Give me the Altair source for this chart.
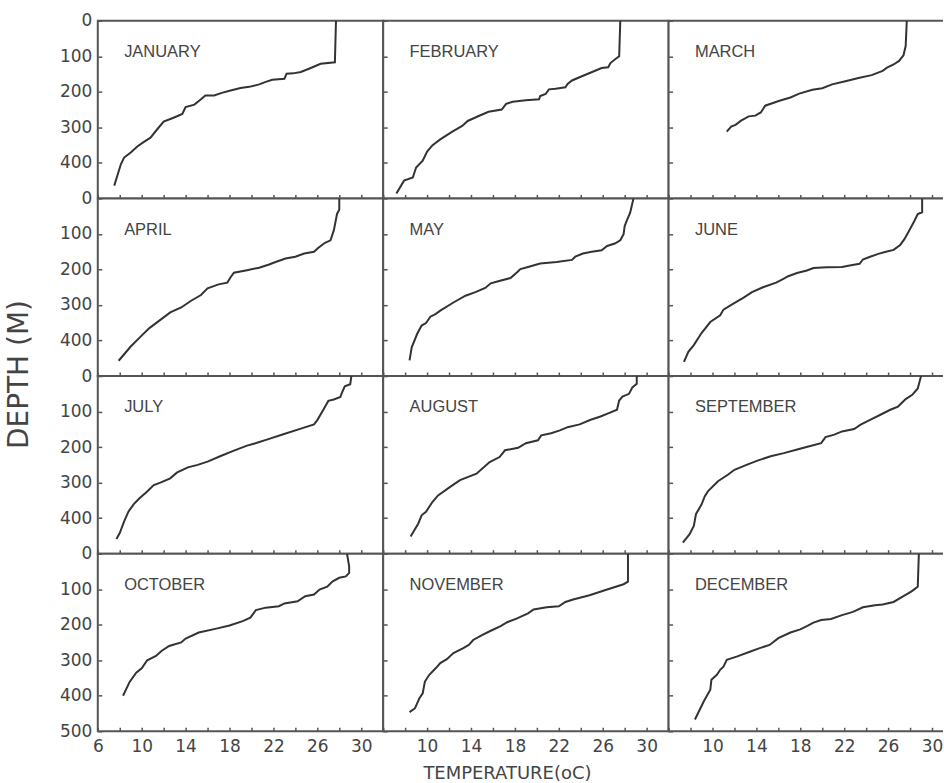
import json
import altair as alt
import pandas as pd

# ---------------- data ----------------
months = ["JANUARY", "FEBRUARY", "MARCH", "APRIL", "MAY", "JUNE",
          "JULY", "AUGUST", "SEPTEMBER", "OCTOBER", "NOVEMBER", "DECEMBER"]

jan_t = [27.7, 27.6, 26.3, 25.4, 24.5, 23.8, 23.2, 23.0, 21.9, 21.3, 20.7, 19.8, 19.0, 18.1, 17.3, 16.6,
         15.8, 15.4, 14.8, 14.0, 13.7, 12.9, 12.0, 11.4, 10.8, 10.1, 9.6, 9.0, 8.4, 8.1, 7.5]
jan_d = [0, 117, 121, 133, 144, 148, 149, 163, 166, 172, 179, 186, 189, 196, 203, 210,
         210, 221, 236, 243, 262, 273, 284, 306, 329, 343, 354, 371, 385, 404, 464]

feb_t = [27.6, 27.5, 27.1, 26.7, 26.5, 25.9, 25.2, 24.1, 23.2, 22.8, 22.6, 21.7, 21.1, 20.8, 20.3, 20.2,
         19.0, 17.8, 17.2, 16.8, 15.6, 14.7, 13.7, 13.2, 12.3, 11.2, 10.5, 10.0, 9.6, 9.0, 8.7, 7.9, 7.2]
feb_d = [0, 100, 109, 119, 131, 133, 142, 156, 168, 178, 187, 191, 193, 206, 212, 221,
         224, 228, 234, 250, 256, 268, 282, 296, 312, 334, 350, 368, 394, 413, 441, 450, 486]

mar_t = [27.7, 27.6, 27.4, 27.0, 26.5, 25.9, 25.5, 24.5, 23.3, 22.1, 20.9, 20.0, 19.1, 17.9, 17.1, 16.1,
         14.8, 14.4, 13.9, 13.3, 12.6, 12.1, 11.7, 11.3]
mar_d = [0, 71, 97, 113, 123, 132, 141, 153, 161, 170, 179, 190, 194, 205, 216, 225,
         239, 258, 267, 269, 281, 293, 298, 312]

apr_t = [28.0, 28.0, 27.8, 27.5, 27.2, 26.7, 26.1, 25.7, 24.8, 24.0, 23.1, 22.2, 21.6, 20.7, 19.6, 18.4,
         18.1, 17.8, 17.0, 16.0, 15.4, 14.5, 13.6, 12.6, 11.7, 10.7, 9.9, 9.0, 7.9]
apr_d = [0, 32, 43, 90, 118, 125, 139, 150, 155, 164, 169, 179, 186, 195, 202, 209,
         222, 237, 242, 253, 272, 288, 307, 321, 342, 365, 389, 417, 457]

may_t = [28.8, 28.5, 28.2, 28.0, 27.9, 27.6, 27.1, 26.4, 25.9, 25.0, 24.2, 23.5, 23.2, 21.8, 20.3, 19.2,
         18.5, 18.2, 17.6, 16.4, 15.8, 15.3, 14.4, 13.5, 12.4, 11.2, 10.8, 10.3, 9.9, 9.5, 9.1, 8.6, 8.4]
may_d = [0, 40, 62, 78, 101, 118, 127, 134, 146, 150, 155, 164, 173, 179, 183, 193,
         199, 208, 224, 234, 239, 252, 264, 274, 293, 316, 325, 333, 351, 358, 381, 419, 456]

jun_t = [29.1, 29.1, 28.7, 28.4, 28.0, 27.5, 27.1, 26.5, 25.8, 25.1, 24.3, 23.7, 23.4, 22.5, 21.8, 20.4,
         19.2, 18.6, 17.7, 16.9, 16.5, 15.8, 14.6, 13.6, 12.8, 11.9, 11.0, 10.7, 9.8, 9.0, 8.3, 7.8, 7.4]
jun_d = [0, 39, 44, 63, 86, 114, 131, 145, 150, 156, 165, 172, 184, 189, 193, 194,
         196, 203, 210, 219, 226, 237, 250, 264, 280, 296, 313, 329, 348, 379, 413, 432, 460]

jul_t = [29.1, 29.0, 28.5, 28.2, 28.1, 27.5, 27.0, 26.6, 26.0, 25.7, 24.5, 22.9, 21.4, 20.5, 19.6, 18.4,
         17.2, 16.0, 15.1, 14.2, 13.2, 12.6, 11.7, 11.1, 10.4, 9.8, 9.3, 8.8, 8.4, 8.0, 7.7]
jul_d = [0, 23, 29, 50, 59, 66, 70, 92, 124, 136, 148, 164, 179, 188, 196, 210,
         225, 241, 250, 257, 272, 288, 300, 307, 328, 344, 360, 381, 409, 442, 459]

aug_t = [29.1, 29.1, 28.7, 28.4, 27.8, 27.5, 27.3, 26.5, 25.8, 24.9, 23.9, 22.8, 22.1, 21.3, 20.4, 20.1,
         19.0, 18.3, 17.1, 16.6, 15.7, 14.5, 13.0, 12.1, 11.0, 10.5, 9.9, 9.5, 9.2, 8.5]
aug_d = [0, 22, 32, 50, 58, 69, 95, 105, 114, 123, 136, 144, 153, 161, 167, 181,
         189, 202, 209, 228, 242, 275, 293, 312, 336, 354, 382, 392, 415, 452]

sep_t = [29.0, 28.7, 28.2, 27.6, 26.9, 26.2, 25.3, 24.4, 23.5, 22.9, 21.8, 21.1, 20.3, 19.9, 19.0, 17.8,
         16.5, 15.3, 14.1, 13.1, 12.0, 11.4, 10.5, 9.6, 9.3, 9.0, 8.5, 8.3, 7.9, 7.3]
sep_d = [0, 35, 53, 65, 86, 95, 109, 123, 137, 149, 156, 165, 172, 189, 196, 206,
         217, 226, 238, 250, 264, 278, 296, 324, 338, 362, 388, 422, 446, 469]

oct_t = [28.7, 28.9, 28.9, 28.6, 28.0, 27.4, 26.9, 26.2, 25.7, 24.9, 24.2, 23.0, 22.5, 21.3, 20.4, 19.9,
         19.2, 18.0, 16.8, 15.2, 14.0, 13.6, 12.5, 11.8, 11.3, 10.5, 10.0, 9.5, 8.9, 8.3]
oct_d = [0, 36, 54, 64, 68, 78, 93, 101, 115, 120, 134, 140, 148, 152, 159, 180,
         190, 202, 211, 222, 239, 250, 260, 274, 288, 300, 323, 335, 361, 400]

nov_t = [28.3, 28.3, 27.9, 26.4, 24.8, 23.3, 22.6, 22.0, 20.9, 19.7, 19.2, 18.2, 17.3, 16.7, 15.8, 15.0,
         14.2, 13.8, 13.3, 12.4, 11.8, 11.2, 10.8, 10.2, 9.8, 9.6, 9.3, 8.9, 8.4]
nov_d = [0, 79, 86, 101, 117, 129, 136, 148, 151, 157, 168, 182, 193, 204, 217, 229,
         243, 257, 266, 280, 297, 308, 322, 341, 360, 393, 407, 435, 446]

dec_t = [28.8, 28.7, 28.1, 27.2, 26.5, 25.5, 24.8, 23.7, 22.8, 21.8, 20.8, 19.9, 19.2, 18.6, 18.0, 17.1,
         16.0, 15.2, 14.3, 13.4, 12.2, 11.3, 11.0, 10.7, 10.4, 9.9, 9.8, 9.2, 8.4]
dec_d = [0, 93, 107, 123, 136, 143, 145, 151, 164, 173, 184, 187, 194, 204, 213, 222,
         238, 257, 266, 276, 290, 299, 318, 327, 341, 355, 383, 416, 467]

temps = [jan_t, feb_t, mar_t, apr_t, may_t, jun_t, jul_t, aug_t, sep_t, oct_t, nov_t, dec_t]
depths = [jan_d, feb_d, mar_d, apr_d, may_d, jun_d, jul_d, aug_d, sep_d, oct_d, nov_d, dec_d]

x_tick_values = [6, 8, 10, 12, 14, 16, 18, 20, 22, 24, 26, 28, 30]
x_label_values = [6, 10, 14, 18, 22, 26, 30]
y_tick_values = [0, 100, 200, 300, 400, 500]
label_temp = 8.4     # where the month name sits (data units)
label_depth = 88

# ---------------- styling ----------------
LINE = "#333333"
BORDER = "#555555"
TEXT = "#444444"
FONT = "DejaVu Sans"
PANEL_W = [286, 286, 275]
PANEL_H = 178
PX_PER_DEG = 286 / 26.0


def panel(i):
    r, c = divmod(i, 3)
    df = pd.DataFrame({"temp": temps[i], "depth": depths[i], "order": list(range(len(temps[i])))})
    lab = pd.DataFrame({"temp": [label_temp], "depth": [label_depth], "name": [months[i]]})
    xmax = 6 + PANEL_W[c] / PX_PER_DEG

    xl = x_label_values if c == 0 else [v for v in x_label_values if v != 6]
    x_expr = "indexof(%s, datum.value) >= 0 ? datum.label : ''" % json.dumps(xl)
    yl = y_tick_values if r == 3 else [v for v in y_tick_values if v != 500]
    y_expr = "indexof(%s, datum.value) >= 0 ? datum.label : ''" % json.dumps(yl)

    x_axis_kw = dict(values=x_tick_values, labelExpr=x_expr, labels=(r == 3), offset=-4,
                     tickSize=4, domain=False, grid=False, labelFlush=False,
                     labelOverlap=False, labelPadding=7,
                     labelFont=FONT, labelFontSize=17, labelColor=TEXT,
                     tickColor=BORDER, tickWidth=1.5)
    if r == 3 and c == 1:
        x_axis_kw.update(title="TEMPERATURE(oC)", titleX=124, titleY=51,
                         titleBaseline="alphabetic", titleAlign="center",
                         titleFontSize=18, titleFontWeight="normal", titleFont=FONT,
                         titleColor=TEXT)
    else:
        x_axis_kw.update(title=None)

    y_axis_kw = dict(values=y_tick_values, labelExpr=y_expr, labels=(c == 0), offset=-4,
                     tickSize=4, domain=False, grid=False, labelFlush=False,
                     labelOverlap=False, labelPadding=6,
                     labelFont=FONT, labelFontSize=17, labelColor=TEXT,
                     tickColor=BORDER, tickWidth=1.5)
    if r == 1 and c == 0:
        y_axis_kw.update(title="DEPTH (M)", titleX=-82, titleY=176, titleAngle=270,
                         titleBaseline="middle", titleAlign="center", titleFontSize=28,
                         titleFontWeight="normal", titleFont=FONT, titleColor=TEXT)
    else:
        y_axis_kw.update(title=None)

    xenc = alt.X("temp:Q", scale=alt.Scale(domain=[6, xmax], nice=False, zero=False),
                 axis=alt.Axis(**x_axis_kw))
    yenc = alt.Y("depth:Q", scale=alt.Scale(domain=[0, 500], reverse=True, nice=False, zero=False),
                 axis=alt.Axis(**y_axis_kw))

    line = alt.Chart(df).mark_line(color=LINE, strokeWidth=2, clip=True).encode(
        x=xenc, y=yenc, order="order:Q")
    text = alt.Chart(lab).mark_text(align="left", baseline="middle", font="Liberation Sans",
                                    fontSize=16.5, color=TEXT).encode(x=xenc, y=yenc, text="name:N")
    w = PANEL_W[c]
    view = alt.ViewBackground(stroke=BORDER, strokeWidth=2, fill="white")
    if c == 2:
        view = alt.ViewBackground(stroke=BORDER, strokeWidth=2, fill="white",
                                  strokeDash=[w, PANEL_H, w + PANEL_H])
    return alt.layer(line, text).properties(width=w, height=PANEL_H, view=view)


chart = alt.concat(*[panel(i) for i in range(12)], columns=3, spacing=0, bounds="flush").properties(
    padding={"left": 5, "top": 10, "right": 0, "bottom": 0}
).configure(background="white").configure_view(stroke=BORDER, strokeWidth=2)

chart.save("out.html", embed_options={"renderer": "svg", "actions": False})
